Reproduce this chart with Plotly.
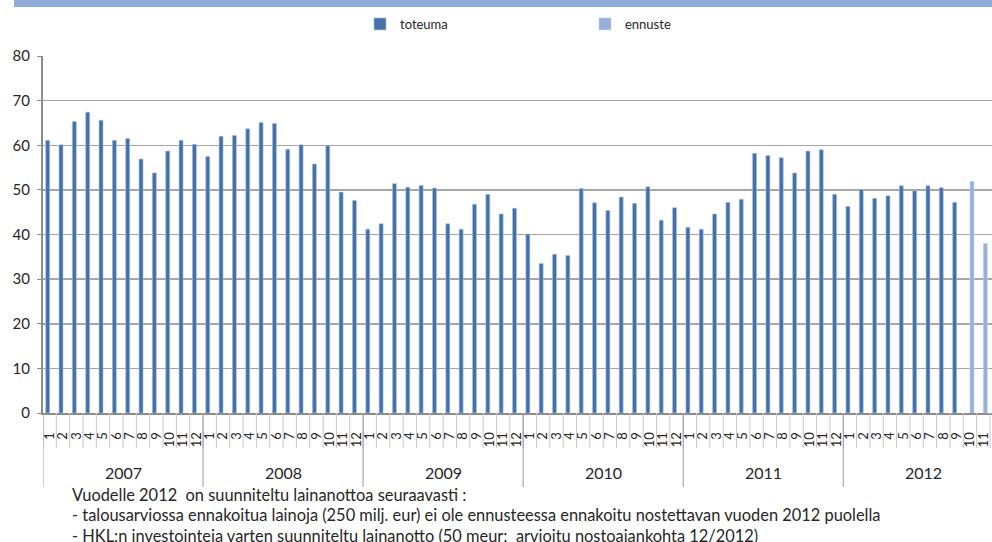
import plotly.graph_objects as go

years = ["2007", "2008", "2009", "2010", "2011", "2012"]
months = [str(m) for m in range(1, 13)]

toteuma = [
    61.1, 60.1, 65.3, 67.4, 65.6, 61.1, 61.5, 56.9, 53.8, 58.7, 61.1, 60.2,
    57.5, 62.0, 62.2, 63.7, 65.1, 64.9, 59.1, 60.1, 55.8, 59.9, 49.5, 47.6,
    41.2, 42.4, 51.4, 50.6, 51.0, 50.4, 42.4, 41.2, 46.8, 49.0, 44.6, 45.9,
    40.1, 33.5, 35.6, 35.3, 50.3, 47.1, 45.4, 48.4, 47.0, 50.7, 43.2, 46.0,
    41.6, 41.2, 44.6, 47.2, 47.9, 58.2, 57.7, 57.2, 53.8, 58.7, 59.0, 49.0,
    46.3, 50.1, 48.1, 48.7, 50.9, 49.8, 50.9, 50.5, 47.2, None, None, None,
]
ennuste = [None] * 69 + [51.9, 38.0, None]

y_ticks = [0, 10, 20, 30, 40, 50, 60, 70, 80]

footnote = [
    "Vuodelle 2012  on suunniteltu lainanottoa seuraavasti :",
    "- talousarviossa ennakoitua lainoja (250 milj. eur) ei ole ennusteessa ennakoitu nostettavan vuoden 2012 puolella",
    "- HKL:n investointeja varten suunniteltu lainanotto (50 meur;  arvioitu nostoajankohta 12/2012)",
]

cats = [f"{y}-{m}" for y in years for m in months]
month_labels = [m for y in years for m in months]

FONT = "Lato, 'Open Sans', sans-serif"
TXT = "#262626"

W, H = 992, 542
L, R, T, B = 43, 0, 56, 129
plot_h = H - T - B
plot_w = W - L - R


def py(pix):
    """pixel y (from top) -> paper y"""
    return (H - B - pix) / plot_h


fig = go.Figure()
fig.add_trace(go.Bar(
    x=cats, y=toteuma, name="toteuma",
    marker=dict(color="#4571A9", line=dict(color="#AFC3E1", width=0.6)),
))
fig.add_trace(go.Bar(
    x=cats, y=ennuste, name="ennuste",
    marker=dict(color="#97B0DA", line=dict(color="#C6D4EC", width=0.6)),
))

shapes = []
# top band
shapes.append(dict(type="rect", xref="paper", yref="paper",
                   x0=(14 - L) / plot_w, x1=1.0, y0=py(7), y1=py(-2),
                   fillcolor="#8EAAD6", line=dict(width=0), layer="below"))
# month separators
for i in range(len(cats) + 1):
    shapes.append(dict(type="line", xref="x", yref="paper",
                       x0=i - 0.5, x1=i - 0.5, y0=0, y1=py(448),
                       line=dict(color="#C8C8C8", width=1)))
# year dividers
for i in range(len(years) + 1):
    shapes.append(dict(type="line", xref="x", yref="paper",
                       x0=i * 12 - 0.5, x1=i * 12 - 0.5, y0=0, y1=py(487),
                       line=dict(color="#9A9A9A", width=1)))

annotations = []
for i, yr in enumerate(years):
    annotations.append(dict(x=i * 12 + 5.5, y=py(472), xref="x", yref="paper",
                            text=yr, showarrow=False,
                            font=dict(family=FONT, size=16, color=TXT),
                            xanchor="center", yanchor="middle"))
for j, line in enumerate(footnote):
    annotations.append(dict(x=(70 - L) / plot_w, y=py(494 + j * 20.5),
                            xref="paper", yref="paper", text=line,
                            showarrow=False, xanchor="left", yanchor="middle",
                            font=dict(family=FONT, size=16.4, color=TXT)))

fig.update_layout(
    width=W, height=H,
    margin=dict(l=L, r=R, t=T, b=B, pad=0, autoexpand=False),
    paper_bgcolor="white", plot_bgcolor="white",
    barmode="group", bargap=0.4, bargroupgap=0,
    font=dict(family=FONT, size=14, color=TXT),
    showlegend=True,
    legend=dict(orientation="h", x=(360 - L) / plot_w, xanchor="left",
                y=py(9), yanchor="top",
                entrywidth=180, entrywidthmode="pixels",
                font=dict(family=FONT, size=13, color=TXT),
                bgcolor="rgba(0,0,0,0)", traceorder="normal"),
    shapes=shapes,
    annotations=annotations,
)

fig.update_xaxes(
    type="category", categoryorder="array", categoryarray=cats,
    range=[-0.5, 70.65], automargin=False,
    tickmode="array", tickvals=cats, ticktext=month_labels,
    tickangle=-90,
    ticks="outside", ticklen=12, tickcolor="rgba(0,0,0,0)", tickwidth=1,
    tickfont=dict(family=FONT, size=13, color=TXT),
    showline=True, linecolor="#8C8C8C", linewidth=2,
    showgrid=False, zeroline=False,
)
fig.update_yaxes(
    range=[0, 80], tickmode="array", tickvals=y_ticks, automargin=False,
    ticks="outside", ticklen=4, tickcolor="#8C8C8C",
    ticklabelstandoff=4,
    showline=True, linecolor="#8C8C8C", linewidth=2,
    showgrid=True, gridcolor="#A6A6A6", gridwidth=1.5,
    zeroline=False,
    tickfont=dict(family=FONT, size=15, color=TXT),
)

fig.write_html("out.html",
               config={"displayModeBar": False, "staticPlot": True},
               post_script="document.body.style.margin='0';"
                           "document.body.style.overflow='hidden';")
